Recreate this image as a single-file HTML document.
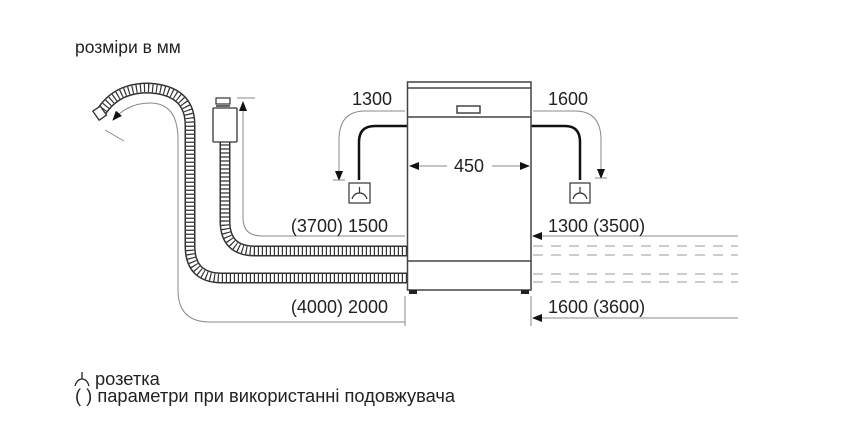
<!DOCTYPE html>
<html><head><meta charset="utf-8"><style>
html,body{margin:0;padding:0;background:#fff;}
svg{display:block;}
text{font-family:"Liberation Sans",sans-serif;fill:#222;}
</style></head><body>
<svg width="862" height="442" viewBox="0 0 862 442" xmlns="http://www.w3.org/2000/svg">
<defs>
<marker id="a" markerWidth="10" markerHeight="8" refX="9" refY="4" orient="auto" markerUnits="userSpaceOnUse">
<path d="M0,0 L10,4 L0,8 z" fill="#111"/></marker>
</defs>
<text x="75" y="53" font-size="17.5">розміри в мм</text>

<g fill="none" stroke="#888" stroke-width="1">
<path d="M405,322 H210 Q178,322 178,290 V140 Q178,103 150,103 Q128,103 113,120" marker-end="url(#a)"/>
<line x1="105" y1="130" x2="124" y2="141"/>
<path d="M405,236 H262 Q243,236 243,218 V102" marker-end="url(#a)"/>
<line x1="237" y1="98" x2="255" y2="98"/>
<path d="M405,111 H365 Q339,111 339,140 V180" marker-end="url(#a)"/>
<line x1="333" y1="180" x2="345" y2="180"/>
<path d="M533,111 H575 Q601,111 601,140 V178" marker-end="url(#a)"/>
<line x1="595" y1="178" x2="607" y2="178"/>
<line x1="405" y1="296" x2="405" y2="326"/>
<line x1="531" y1="296" x2="531" y2="326"/>
<path d="M738,236 H533" marker-end="url(#a)"/>
<path d="M738,318 H533" marker-end="url(#a)"/>
<path d="M447,166 H410" marker-end="url(#a)"/>
<path d="M492,166 H529" marker-end="url(#a)"/>
</g>
<g stroke="#999" stroke-width="1" stroke-dasharray="10,8">
<line x1="533" y1="246" x2="738" y2="246"/>
<line x1="533" y1="255" x2="738" y2="255"/>
<line x1="533" y1="274" x2="738" y2="274"/>
<line x1="533" y1="282" x2="738" y2="282"/>
</g>

<g fill="none">
<path d="M407,278 H222 Q190,278 190,246 V125 Q190,90 148,88 Q115,88 100,114" stroke="#333" stroke-width="11"/>
<path d="M407,278 H222 Q190,278 190,246 V125 Q190,90 148,88 Q115,88 100,114" stroke="#fff" stroke-width="8"/>
<path d="M407,278 H222 Q190,278 190,246 V125 Q190,90 148,88 Q115,88 100,114" stroke="#333" stroke-width="8" stroke-dasharray="1.2,2.8"/>
<path d="M407,251 H255 Q225,251 225,221 V142" stroke="#333" stroke-width="11"/>
<path d="M407,251 H255 Q225,251 225,221 V142" stroke="#fff" stroke-width="8"/>
<path d="M407,251 H255 Q225,251 225,221 V142" stroke="#333" stroke-width="8" stroke-dasharray="1.2,2.8"/>
</g>
<rect x="95" y="108" width="9" height="11" fill="#fff" stroke="#333" stroke-width="1.3" transform="rotate(-35 99 113)"/>
<rect x="213" y="108" width="24" height="34" rx="1" fill="#fff" stroke="#333" stroke-width="1.3"/>
<rect x="216" y="98" width="14" height="6" fill="#fff" stroke="#333" stroke-width="1.2"/>
<line x1="216" y1="106" x2="230" y2="106" stroke="#333" stroke-width="1.5"/>

<g fill="none" stroke="#111" stroke-width="2.5">
<path d="M407,126 H375 Q359,126 359,142 V180"/>
<path d="M531,126 H565 Q580,126 580,142 V180"/>
</g>
<g fill="#fff" stroke="#333" stroke-width="1.2">
<rect x="349" y="183" width="21" height="20"/>
<rect x="570" y="183" width="20" height="20"/>
</g>
<g fill="none" stroke="#333" stroke-width="1.2">
<path d="M359.5,187 V193 M352,199 Q354,193 359.5,193 Q365,193 367,199"/>
<path d="M580,187 V193 M573,199 Q575,193 580,193 Q585,193 587,199"/>
</g>

<g fill="none" stroke="#444" stroke-width="1.5">
<rect x="407.5" y="82" width="123.5" height="208"/>
<line x1="407.5" y1="88" x2="531" y2="88"/>
<line x1="407.5" y1="117" x2="531" y2="117"/>
<line x1="407.5" y1="261" x2="531" y2="261"/>
<rect x="457" y="106" width="23" height="7"/>
</g>
<rect x="409" y="290" width="8" height="4" fill="#222"/>
<rect x="521" y="290" width="8" height="4" fill="#222"/>

<g font-size="18">
<text x="352" y="105">1300</text>
<text x="548" y="105">1600</text>
<text x="469" y="172" text-anchor="middle">450</text>
<text x="388" y="232" text-anchor="end">(3700) 1500</text>
<text x="548" y="232">1300 (3500)</text>
<text x="388" y="313" text-anchor="end">(4000) 2000</text>
<text x="548" y="313">1600 (3600)</text>
</g>

<g fill="none" stroke="#222" stroke-width="1.3">
<path d="M82,372 V379 M75,386 Q77,379 82,379 Q87,379 89,386"/>
</g>
<text x="95" y="385" font-size="18.3">розетка</text>
<text x="75" y="402" font-size="18.3">( ) параметри при використанні подовжувача</text>
</svg>
</body></html>
